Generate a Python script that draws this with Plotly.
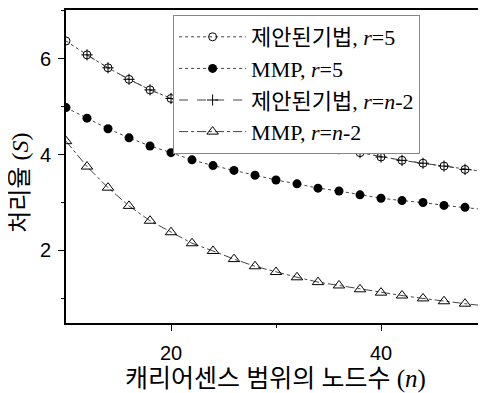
import plotly.graph_objects as go

n_vals = [10, 12, 14, 16, 18, 20, 22, 24, 26, 28, 30, 32, 34, 36, 38, 40, 42, 44, 46, 48, 50]
prop_r5 = [6.37, 6.08, 5.81, 5.57, 5.35, 5.17, 5.00, 4.85, 4.71, 4.58, 4.45, 4.33, 4.22,
           4.12, 4.04, 3.95, 3.88, 3.82, 3.76, 3.69, 3.64]
mmp_r5 = [4.98, 4.76, 4.54, 4.35, 4.18, 4.04, 3.89, 3.77, 3.67, 3.57, 3.47, 3.39, 3.30,
          3.24, 3.16, 3.09, 3.04, 3.00, 2.94, 2.90, 2.85]
n_vals_b = n_vals[1:]
prop_rn2 = prop_r5[1:]
mmp_rn2 = [4.28, 3.75, 3.31, 2.93, 2.62, 2.38, 2.15, 1.99, 1.82, 1.67, 1.55, 1.44, 1.34,
           1.27, 1.19, 1.12, 1.06, 1.00, 0.94, 0.89, 0.84]

x_ticks = [20, 40]
y_ticks = [2, 4, 6]

names = ["제안된기법, <i>r</i>=5", "MMP, <i>r</i>=5",
         "제안된기법, <i>r</i>=<i>n</i>-2", "MMP, <i>r</i>=<i>n</i>-2"]
x_title = "캐리어센스 범위의 노드수 (<i>n</i>)"
y_title = "처리율 (<i>S</i>)"

LC = "#444"
FONT = "Liberation Serif, Noto Sans CJK KR"
fig = go.Figure()
fig.add_trace(go.Scatter(x=n_vals, y=prop_r5, name=names[0], mode="lines+markers",
                         line=dict(color=LC, width=1, dash="dot"),
                         marker=dict(symbol="circle-open", size=8, color="black", line=dict(width=1))))
fig.add_trace(go.Scatter(x=n_vals, y=mmp_r5, name=names[1], mode="lines+markers",
                         line=dict(color=LC, width=1, dash="dot"),
                         marker=dict(symbol="circle", size=9, color="black")))
fig.add_trace(go.Scatter(x=n_vals_b, y=prop_rn2, name=names[2], mode="lines+markers",
                         line=dict(color=LC, width=1, dash="dash"),
                         marker=dict(symbol="cross-thin-open", size=8, color="black", line=dict(width=1))))
fig.add_trace(go.Scatter(x=n_vals, y=mmp_rn2, name=names[3], mode="lines+markers",
                         line=dict(color=LC, width=1, dash="dashdot"),
                         marker=dict(symbol="triangle-up-open", size=10, color="black", line=dict(width=1))))

fig.update_layout(
    width=478, height=385,
    margin=dict(l=58, r=0, t=0, b=70),
    paper_bgcolor="white", plot_bgcolor="white",
    font=dict(family=FONT, color="black"),
    showlegend=True,
    legend=dict(x=0.255, y=0.984, xanchor="left", yanchor="top",
                bgcolor="white", bordercolor="#888", borderwidth=1,
                font=dict(family=FONT, size=22, color="black"),
                itemwidth=67, tracegroupgap=0),
    xaxis=dict(range=[10, 50], tickvals=x_ticks, ticks="outside", ticklen=6,
               showline=True, linecolor="black", linewidth=2, mirror=True,
               tickcolor="black", showgrid=False, zeroline=False,
               minor=dict(tickvals=[30], ticks="outside", ticklen=3, tickcolor="black"),
               ticklabelstandoff=5,
               tickfont=dict(family="Liberation Sans", size=20, color="black")),
    yaxis=dict(range=[0.487, 7.016], tickvals=y_ticks, ticks="outside", ticklen=6,
               showline=True, linecolor="black", linewidth=2,
               tickcolor="black", showgrid=False, zeroline=False,
               minor=dict(tickvals=[1, 3, 5, 7], ticks="outside", ticklen=3, tickcolor="black"),
               ticklabelstandoff=3,
               tickfont=dict(family="Liberation Sans", size=20, color="black")),
    annotations=[
        dict(text=y_title, textangle=-90, xref="paper", yref="paper",
             x=-0.1095, y=0.448, xanchor="center", yanchor="middle", showarrow=False,
             font=dict(family=FONT, size=24, color="black")),
        dict(text=x_title, xref="paper", yref="paper",
             x=0.498, y=-0.178, xanchor="center", yanchor="middle", showarrow=False,
             font=dict(family=FONT, size=25, color="black")),
    ]
)

fig.write_html("out.html")
